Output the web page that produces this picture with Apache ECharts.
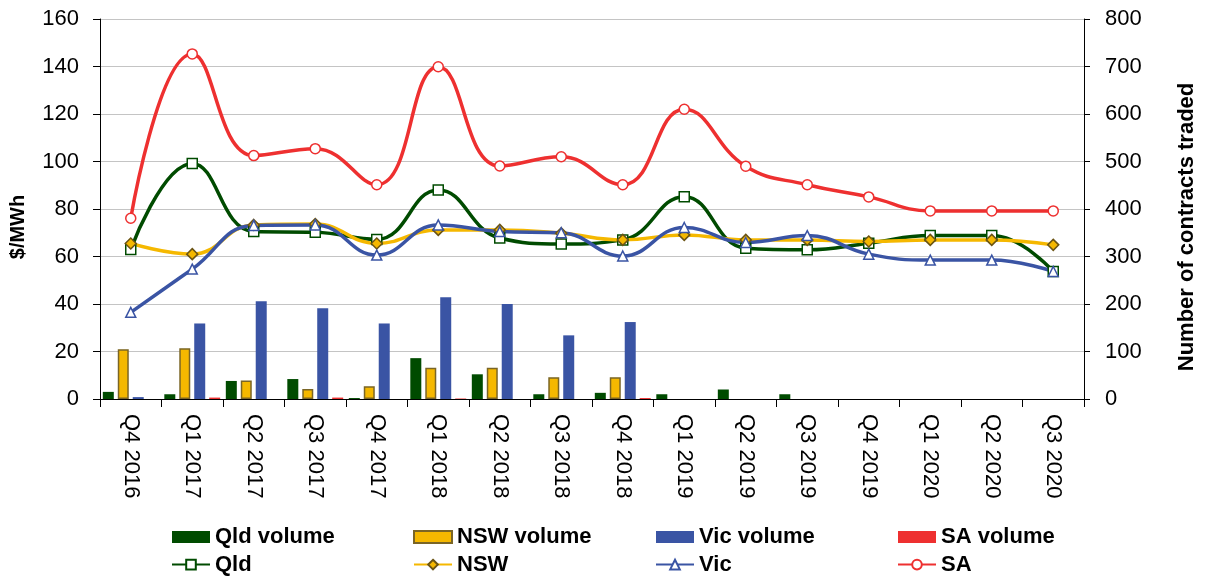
<!DOCTYPE html>
<html>
<head>
<meta charset="utf-8">
<script src="https://cdn.jsdelivr.net/npm/echarts@6/dist/echarts.min.js"></script>
<style>
  html, body { margin: 0; padding: 0; background: #ffffff; }
  #chart { width: 1206px; height: 576px; }
</style>
</head>
<body>
<div id="chart"></div>
<script>
// Quarters traded
const categories = ['Q4 2016', 'Q1 2017', 'Q2 2017', 'Q3 2017', 'Q4 2017', 'Q1 2018', 'Q2 2018', 'Q3 2018',
  'Q4 2018', 'Q1 2019', 'Q2 2019', 'Q3 2019', 'Q4 2019', 'Q1 2020', 'Q2 2020', 'Q3 2020'];

// Contract prices ($/MWh), left axis
const qldPrice = [63, 99.2, 70.5, 70.2, 67.2, 88, 67.8, 65.3, 67, 85.2, 63.5, 62.8, 65.6, 68.8, 68.8, 53.7];
const nswPrice = [65.5, 61, 73.3, 73.7, 65.5, 71.2, 71.2, 69.8, 67, 69.1, 67, 67, 66.3, 67, 67, 64.9];
const vicPrice = [36.5, 54.7, 73.1, 73.3, 60.6, 73.3, 70.5, 70, 60.2, 72.2, 65.9, 68.8, 61, 58.5, 58.5, 53.7];
const saPrice = [76.1, 145.3, 102.5, 105.4, 90.2, 139.9, 98.1, 102, 90.2, 122, 98, 90.2, 85.1, 79.2, 79.2, 79.2];

// Number of contracts traded, right axis
const qldVolume = [15, 10, 38, 42, 2, 86, 52, 10, 13, 10, 20, 10, 0, 0, 0, 0];
const nswVolume = [105, 107, 39, 21, 27, 66, 66, 46, 46, 0, 0, 0, 0, 0, 0, 0];
const vicVolume = [4, 159, 206, 191, 159, 214, 200, 134, 162, 0, 0, 0, 0, 0, 0, 0];
const saVolume = [0, 3, 0, 3, 0, 1, 0, 0, 2, 0, 0, 0, 0, 0, 0, 0];

const FONT = "'Liberation Sans', Arial, sans-serif";
const GREEN = '#004b00', GOLD = '#f5b800', BLUE = '#3a54a4', RED = '#ee3030';

// quarters with no trades get no bar (avoids a stray border line at zero)
const noZero = arr => arr.map(v => (v === 0 ? '-' : v));

function barSeries(name, data, color, border) {
  return {
    name, type: 'bar', yAxisIndex: 1, data: noZero(data),
    barWidth: 11, barGap: '36%',
    itemStyle: { color, borderColor: border || color, borderWidth: border ? 1.5 : 0 },
    emphasis: { disabled: true }
  };
}

function lineSeries(name, data, color, symbol, fill, border) {
  return {
    name, type: 'line', yAxisIndex: 0, data,
    smooth: 0.45,
    symbol, symbolSize: symbol === 'diamond' ? 11 : 10,
    lineStyle: { color, width: 3.5 },
    itemStyle: { color: fill, borderColor: border, borderWidth: 1.5 },
    emphasis: { disabled: true },
    z: 5
  };
}

const legendText = { fontFamily: FONT, fontSize: 22, fontWeight: 'bold', color: '#000', lineHeight: 22 };
function legendColumn(left, volumeName, priceName) {
  return {
    orient: 'vertical', left, top: 526, itemGap: 5.6, padding: 0,
    itemWidth: 38, itemHeight: 12,
    textStyle: legendText,
    data: [{ name: volumeName, icon: 'rect' }, { name: priceName }],
    selectedMode: false
  };
}

const chart = echarts.init(document.getElementById('chart'), null, { renderer: 'canvas' });
chart.setOption({
  animation: false,
  backgroundColor: '#ffffff',
  grid: { left: 94, right: 110, top: 19, bottom: 177, containLabel: false },
  legend: [
    legendColumn(171, 'Qld volume', 'Qld'),
    legendColumn(413, 'NSW volume', 'NSW'),
    legendColumn(655, 'Vic volume', 'Vic'),
    legendColumn(897, 'SA volume', 'SA')
  ],
  xAxis: {
    type: 'category', data: categories, boundaryGap: true,
    axisLine: { show: true, lineStyle: { color: '#000', width: 1 } },
    axisTick: { show: true, length: 8, lineStyle: { color: '#000' } },
    axisLabel: { rotate: -90, margin: 15, fontFamily: FONT, fontSize: 22, color: '#000' },
    splitLine: { show: false }
  },
  yAxis: [
    {
      type: 'value', min: 0, max: 160, interval: 20, position: 'left',
      name: '$/MWh', nameLocation: 'middle', nameGap: 72,
      nameTextStyle: { fontFamily: FONT, fontSize: 20, fontWeight: 'bold', color: '#000', padding: [0, 36, 0, 0] },
      axisLine: { show: true, lineStyle: { color: '#000', width: 1 } },
      axisTick: { show: true, length: 7, lineStyle: { color: '#000' } },
      axisLabel: { margin: 21, fontFamily: FONT, fontSize: 22, color: '#000' },
      splitLine: { show: true, lineStyle: { color: '#c4c4c4', width: 1 } }
    },
    {
      type: 'value', min: 0, max: 800, interval: 100, position: 'right',
      name: 'Number of contracts traded', nameLocation: 'middle', nameGap: 92,
      nameTextStyle: { fontFamily: FONT, fontSize: 22, fontWeight: 'bold', color: '#000', padding: [0, 36, 0, 0] },
      axisLine: { show: true, lineStyle: { color: '#000', width: 1 } },
      axisTick: { show: true, length: 6, lineStyle: { color: '#000' } },
      axisLabel: { margin: 21, fontFamily: FONT, fontSize: 22, color: '#000' },
      splitLine: { show: false }
    }
  ],
  series: [
    barSeries('Qld volume', qldVolume, GREEN),
    barSeries('NSW volume', nswVolume, GOLD, '#7a6526'),
    barSeries('Vic volume', vicVolume, BLUE),
    barSeries('SA volume', saVolume, RED),
    lineSeries('Qld', qldPrice, GREEN, 'rect', '#ffffff', GREEN),
    lineSeries('NSW', nswPrice, GOLD, 'diamond', GOLD, '#6b5414'),
    lineSeries('Vic', vicPrice, BLUE, 'triangle', '#ffffff', BLUE),
    lineSeries('SA', saPrice, RED, 'circle', '#ffffff', RED)
  ]
});
</script>
</body>
</html>
